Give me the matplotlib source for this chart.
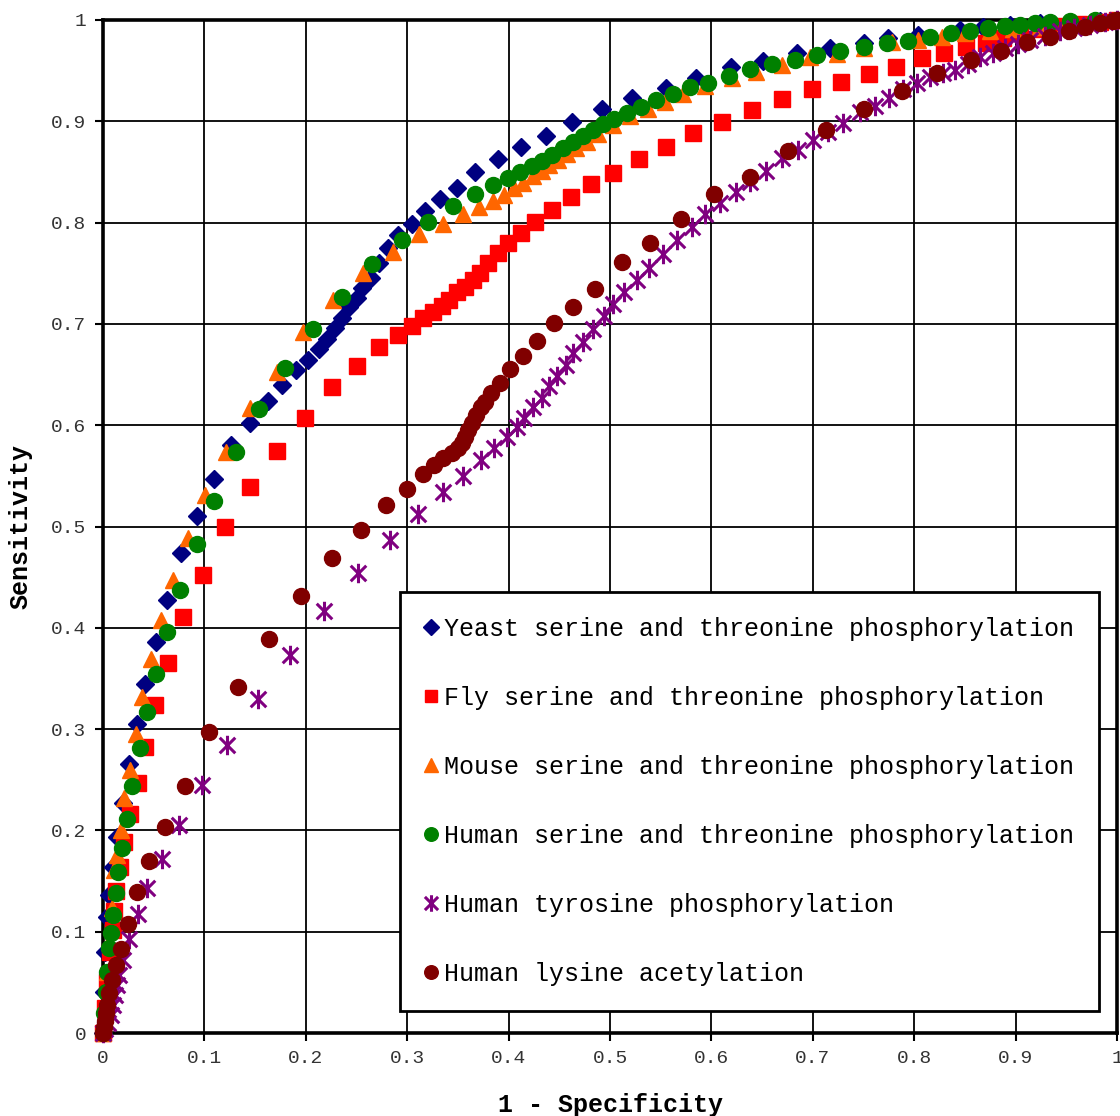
import matplotlib
matplotlib.use("Agg")
import matplotlib.pyplot as plt
from matplotlib.path import Path

# ROC points: (1 - specificity, sensitivity)
yeast_x = [0.0, 0.001, 0.002, 0.004, 0.006, 0.010, 0.014, 0.020, 0.026, 0.034, 0.041, 0.052, 0.063,
           0.077, 0.093, 0.109, 0.126, 0.145, 0.163, 0.177, 0.190, 0.202, 0.213, 0.221, 0.229, 0.236,
           0.243, 0.250, 0.255, 0.264, 0.272, 0.281, 0.291, 0.305, 0.318, 0.332, 0.349, 0.367, 0.390,
           0.412, 0.437, 0.463, 0.492, 0.522, 0.555, 0.585, 0.619, 0.651, 0.684, 0.717, 0.750, 0.774,
           0.804, 0.845, 0.868, 0.894, 0.924, 0.954, 0.983, 1.0]
yeast_y = [0.0, 0.04, 0.08, 0.115, 0.136, 0.164, 0.193, 0.227, 0.266, 0.305, 0.345, 0.386, 0.427,
           0.474, 0.510, 0.547, 0.580, 0.602, 0.624, 0.640, 0.654, 0.664, 0.675, 0.685, 0.696, 0.706,
           0.717, 0.726, 0.735, 0.745, 0.760, 0.775, 0.788, 0.799, 0.811, 0.823, 0.834, 0.850, 0.863,
           0.875, 0.885, 0.899, 0.912, 0.923, 0.933, 0.943, 0.954, 0.960, 0.967, 0.972, 0.977, 0.982,
           0.985, 0.990, 0.993, 0.995, 0.997, 0.998, 0.999, 1.0]

fly_x = [0.0, 0.002, 0.004, 0.007, 0.010, 0.011, 0.013, 0.017, 0.021, 0.027, 0.035, 0.041, 0.051,
         0.064, 0.079, 0.099, 0.120, 0.145, 0.172, 0.199, 0.226, 0.250, 0.272, 0.291, 0.305, 0.316,
         0.325, 0.334, 0.341, 0.349, 0.357, 0.365, 0.372, 0.380, 0.390, 0.399, 0.412, 0.426, 0.443,
         0.462, 0.481, 0.503, 0.529, 0.555, 0.582, 0.610, 0.640, 0.670, 0.699, 0.728, 0.755, 0.782,
         0.808, 0.829, 0.851, 0.871, 0.888, 0.904, 0.924, 0.944, 0.963, 0.983, 1.0]
fly_y = [0.0, 0.025, 0.05, 0.08, 0.102, 0.120, 0.140, 0.164, 0.189, 0.216, 0.247, 0.282, 0.324,
         0.365, 0.411, 0.452, 0.500, 0.539, 0.575, 0.607, 0.638, 0.658, 0.677, 0.689, 0.698, 0.706,
         0.712, 0.718, 0.724, 0.731, 0.736, 0.743, 0.750, 0.760, 0.770, 0.780, 0.790, 0.801, 0.812,
         0.825, 0.838, 0.849, 0.863, 0.875, 0.888, 0.899, 0.911, 0.922, 0.932, 0.939, 0.947, 0.954,
         0.962, 0.967, 0.973, 0.977, 0.982, 0.987, 0.991, 0.994, 0.996, 0.998, 1.0]

mouse_x = [0.0, 0.002, 0.004, 0.006, 0.009, 0.011, 0.014, 0.018, 0.021, 0.027, 0.033, 0.038, 0.047,
           0.057, 0.069, 0.084, 0.101, 0.121, 0.145, 0.172, 0.197, 0.227, 0.256, 0.286, 0.312, 0.335,
           0.355, 0.371, 0.385, 0.395, 0.405, 0.414, 0.424, 0.433, 0.440, 0.449, 0.458, 0.466, 0.477,
           0.488, 0.503, 0.520, 0.537, 0.554, 0.572, 0.594, 0.620, 0.644, 0.670, 0.697, 0.724, 0.750,
           0.778, 0.804, 0.827, 0.850, 0.875, 0.897, 0.924, 0.949, 0.973, 1.0]
mouse_y = [0.0, 0.03, 0.06, 0.09, 0.123, 0.161, 0.176, 0.200, 0.232, 0.260, 0.295, 0.332, 0.369,
           0.408, 0.447, 0.489, 0.531, 0.574, 0.617, 0.653, 0.692, 0.724, 0.750, 0.771, 0.789, 0.799,
           0.808, 0.815, 0.821, 0.827, 0.834, 0.839, 0.846, 0.851, 0.857, 0.862, 0.868, 0.874, 0.880,
           0.887, 0.896, 0.905, 0.912, 0.919, 0.927, 0.935, 0.943, 0.949, 0.956, 0.963, 0.966, 0.972,
           0.978, 0.980, 0.983, 0.987, 0.989, 0.991, 0.993, 0.996, 0.998, 1.0]

human_st_x = [0.0, 0.001, 0.003, 0.004, 0.006, 0.008, 0.010, 0.013, 0.015, 0.019, 0.024, 0.029, 0.036,
              0.043, 0.052, 0.063, 0.076, 0.093, 0.109, 0.131, 0.154, 0.179, 0.207, 0.236, 0.265, 0.295,
              0.321, 0.345, 0.367, 0.385, 0.399, 0.411, 0.423, 0.433, 0.443, 0.454, 0.464, 0.473, 0.483,
              0.493, 0.504, 0.517, 0.531, 0.545, 0.562, 0.579, 0.597, 0.617, 0.638, 0.660, 0.682, 0.704,
              0.727, 0.750, 0.773, 0.794, 0.816, 0.836, 0.855, 0.873, 0.890, 0.904, 0.919, 0.934, 0.954,
              0.978, 1.0]
human_st_y = [0.0, 0.02, 0.04, 0.06, 0.084, 0.099, 0.116, 0.138, 0.159, 0.183, 0.211, 0.244, 0.281,
              0.317, 0.354, 0.396, 0.437, 0.483, 0.525, 0.574, 0.616, 0.656, 0.695, 0.727, 0.759, 0.783,
              0.801, 0.816, 0.828, 0.837, 0.844, 0.850, 0.856, 0.861, 0.867, 0.874, 0.880, 0.885, 0.891,
              0.897, 0.902, 0.908, 0.914, 0.921, 0.927, 0.934, 0.938, 0.945, 0.952, 0.957, 0.961, 0.965,
              0.969, 0.973, 0.977, 0.979, 0.983, 0.987, 0.989, 0.992, 0.994, 0.995, 0.997, 0.998, 0.999,
              1.0, 1.0]

tyr_x = [0.0, 0.002, 0.005, 0.008, 0.010, 0.012, 0.014, 0.016, 0.020, 0.026, 0.035, 0.043, 0.058,
         0.075, 0.098, 0.122, 0.153, 0.184, 0.218, 0.251, 0.283, 0.311, 0.335, 0.355, 0.373, 0.386,
         0.398, 0.408, 0.415, 0.424, 0.433, 0.440, 0.448, 0.457, 0.464, 0.473, 0.483, 0.494, 0.503,
         0.514, 0.527, 0.538, 0.552, 0.566, 0.581, 0.594, 0.608, 0.624, 0.638, 0.654, 0.670, 0.685,
         0.700, 0.715, 0.730, 0.747, 0.761, 0.775, 0.789, 0.803, 0.816, 0.828, 0.840, 0.853, 0.865,
         0.878, 0.890, 0.902, 0.914, 0.929, 0.944, 0.958, 0.973, 0.988, 1.0]
tyr_y = [0.0, 0.004, 0.010, 0.018, 0.028, 0.038, 0.047, 0.057, 0.072, 0.093, 0.117, 0.143, 0.172,
         0.205, 0.245, 0.284, 0.330, 0.373, 0.417, 0.454, 0.487, 0.512, 0.534, 0.550, 0.566, 0.577,
         0.588, 0.598, 0.607, 0.618, 0.627, 0.639, 0.649, 0.659, 0.671, 0.682, 0.695, 0.708, 0.720,
         0.731, 0.743, 0.755, 0.769, 0.783, 0.796, 0.808, 0.819, 0.830, 0.840, 0.851, 0.864, 0.872,
         0.882, 0.889, 0.898, 0.909, 0.915, 0.923, 0.932, 0.938, 0.944, 0.948, 0.951, 0.957, 0.963,
         0.967, 0.972, 0.976, 0.980, 0.984, 0.989, 0.992, 0.995, 0.998, 1.0]

lys_x = [0.0, 0.001, 0.002, 0.003, 0.004, 0.006, 0.009, 0.013, 0.018, 0.025, 0.034, 0.045, 0.061,
         0.081, 0.105, 0.133, 0.164, 0.195, 0.226, 0.254, 0.279, 0.300, 0.316, 0.326, 0.335, 0.344,
         0.350, 0.354, 0.357, 0.360, 0.364, 0.368, 0.373, 0.377, 0.383, 0.392, 0.401, 0.414, 0.428,
         0.445, 0.464, 0.485, 0.512, 0.539, 0.570, 0.603, 0.638, 0.676, 0.713, 0.750, 0.788, 0.822,
         0.856, 0.886, 0.911, 0.934, 0.953, 0.968, 0.983, 0.996, 1.0]
lys_y = [0.0, 0.006, 0.012, 0.020, 0.028, 0.039, 0.052, 0.067, 0.083, 0.108, 0.139, 0.170, 0.203,
         0.244, 0.297, 0.342, 0.389, 0.431, 0.469, 0.497, 0.521, 0.537, 0.552, 0.561, 0.568, 0.573,
         0.577, 0.582, 0.588, 0.595, 0.602, 0.610, 0.618, 0.623, 0.632, 0.642, 0.655, 0.668, 0.683,
         0.701, 0.717, 0.734, 0.761, 0.780, 0.804, 0.828, 0.845, 0.871, 0.891, 0.912, 0.930, 0.948,
         0.961, 0.969, 0.978, 0.983, 0.989, 0.993, 0.997, 0.999, 1.0]

labels = ["Yeast serine and threonine phosphorylation",
          "Fly serine and threonine phosphorylation",
          "Mouse serine and threonine phosphorylation",
          "Human serine and threonine phosphorylation",
          "Human tyrosine phosphorylation",
          "Human lysine acetylation"]

ticks = [0, 0.1, 0.2, 0.3, 0.4, 0.5, 0.6, 0.7, 0.8, 0.9, 1]
tick_labels = ["0", "0.1", "0.2", "0.3", "0.4", "0.5", "0.6", "0.7", "0.8", "0.9", "1"]

plt.rcParams['font.family'] = ['Liberation Mono', 'DejaVu Sans Mono']

# Excel style asterisk: an X with a vertical bar through it
star = Path([(0, 1), (0, -1), (-0.8, 0.8), (0.8, -0.8), (-0.8, -0.8), (0.8, 0.8)],
            [Path.MOVETO, Path.LINETO] * 3)

fig = plt.figure(figsize=(11.2, 11.16), dpi=100)
ax = fig.add_axes([103 / 1120, 83 / 1116, 1014 / 1120, 1013 / 1116])

ax.plot(yeast_x, yeast_y, ls='none', marker='D', ms=9.5, color='#000080', mec='#000080',
        label=labels[0], clip_on=False, zorder=3)
ax.plot(fly_x, fly_y, ls='none', marker='s', ms=11, color='#FF0000', mec='#FF0000',
        label=labels[1], clip_on=False, zorder=3)
ax.plot(mouse_x, mouse_y, ls='none', marker='^', ms=12, color='#FF6600', mec='#FF6600',
        label=labels[2], clip_on=False, zorder=3)
ax.plot(human_st_x, human_st_y, ls='none', marker='o', ms=11.5, color='#008000', mec='#008000',
        label=labels[3], clip_on=False, zorder=3)
ax.plot(tyr_x, tyr_y, ls='none', marker=star, ms=14, color='#800080', mew=2.2,
        label=labels[4], clip_on=False, zorder=3)
ax.plot(lys_x, lys_y, ls='none', marker='o', ms=11.5, color='#800000', mec='#800000',
        label=labels[5], clip_on=False, zorder=3)

ax.set_xlim(0, 1)
ax.set_ylim(0, 1)
ax.set_xticks(ticks)
ax.set_xticklabels(tick_labels)
ax.set_yticks(ticks)
ax.set_yticklabels(tick_labels)
ax.tick_params(axis='both', labelsize=14, labelcolor='#333333', length=6, width=1.5,
               direction='out', pad=6)
ax.grid(True, color='black', lw=1.3)
ax.set_axisbelow(True)
for side in ['top', 'bottom', 'left', 'right']:
    ax.spines[side].set_linewidth(2.6)

ax.set_xlabel("1 - Specificity", fontsize=18, fontweight='bold', labelpad=19)
ax.set_ylabel("Sensitivity", fontsize=18, fontweight='bold', labelpad=13)

leg = ax.legend(loc='upper left', bbox_to_anchor=(0.2929, 0.4354), borderaxespad=0,
                fontsize=18, markerscale=0.85, handlelength=0.5, handletextpad=0.25,
                borderpad=1.0, labelspacing=1.8, frameon=True, fancybox=False,
                framealpha=1, edgecolor='black')
leg.get_frame().set_linewidth(2)
leg.set_zorder(5)

plt.savefig("out.png", dpi=100)
